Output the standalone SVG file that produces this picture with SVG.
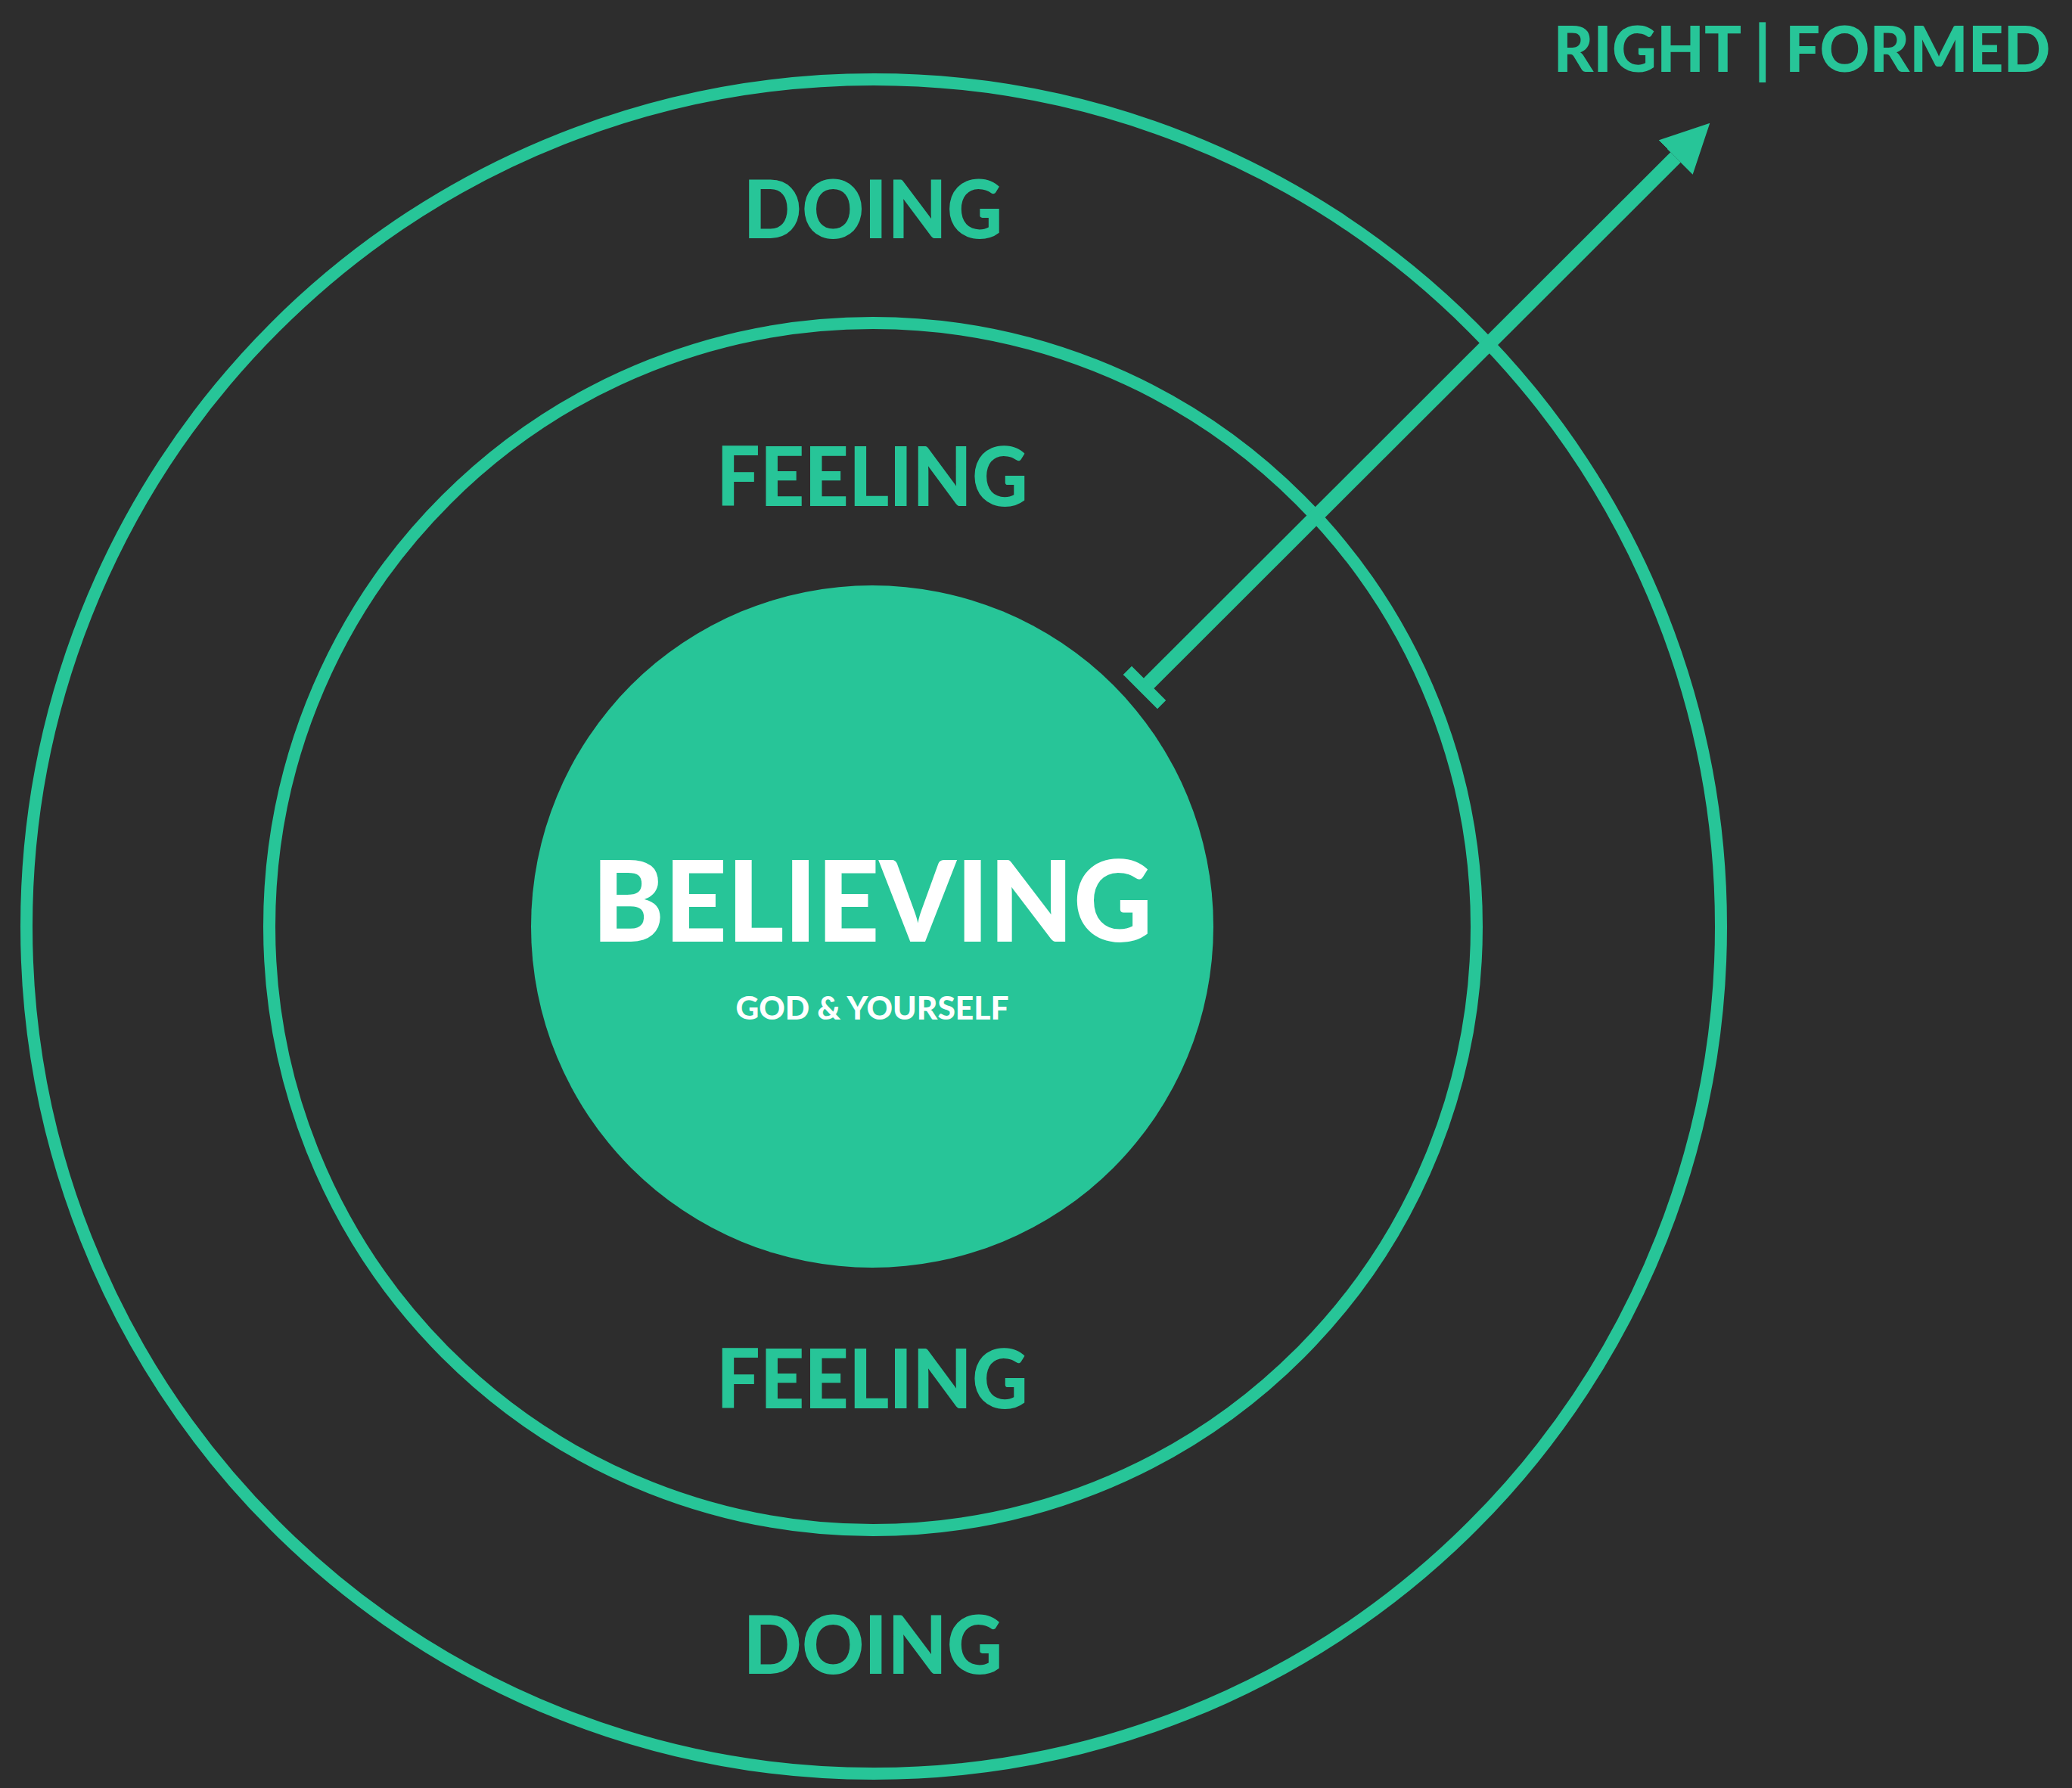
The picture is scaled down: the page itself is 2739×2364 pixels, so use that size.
<svg xmlns="http://www.w3.org/2000/svg" width="2739" height="2364" viewBox="0 0 2739 2364">
<style>
.ring{fill:none;stroke:#27C598;stroke-width:16}
.lbl{font-family:Lato,"Liberation Sans","Noto Sans",sans-serif;font-weight:900;fill:#27C598;text-anchor:middle}
.wht{font-family:Lato,"Liberation Sans","Noto Sans",sans-serif;font-weight:900;fill:#FFFFFF;text-anchor:middle}
.conn{stroke:#27C598;stroke-width:19;fill:none}
</style>
<defs>
<marker id="head" viewBox="0 -32 64 64" markerWidth="64" markerHeight="64" refX="0" refY="0" markerUnits="userSpaceOnUse" orient="auto">
<polygon points="0,-32 64,0 0,32" fill="#27C598"/>
</marker>
<marker id="tee" viewBox="-8 -32 16 64" markerWidth="16" markerHeight="64" refX="0" refY="0" markerUnits="userSpaceOnUse" orient="auto">
<rect x="-8" y="-32" width="16" height="64" fill="#27C598"/>
</marker>
</defs>
<rect x="0" y="0" width="2739" height="2364" fill="#2D2D2D"/>
<g id="doing">
<circle class="ring" cx="1155" cy="1225" r="1120"/>
<text class="lbl" x="1154" y="315" font-size="107" textLength="343" lengthAdjust="spacingAndGlyphs">DOING</text>
<text class="lbl" x="1154" y="2213" font-size="107" textLength="343" lengthAdjust="spacingAndGlyphs">DOING</text>
</g>
<g id="feeling">
<circle class="ring" cx="1154" cy="1225" r="798"/>
<text class="lbl" x="1153" y="669" font-size="108" textLength="412" lengthAdjust="spacingAndGlyphs">FEELING</text>
<text class="lbl" x="1153" y="1862" font-size="108" textLength="412" lengthAdjust="spacingAndGlyphs">FEELING</text>
</g>
<g id="believing">
<circle cx="1153" cy="1225" r="451" fill="#27C598"/>
<text class="wht" x="1153" y="1245" font-size="148" textLength="741" lengthAdjust="spacingAndGlyphs">BELIEVING</text>
<text class="wht" x="1153" y="1348" font-size="42" textLength="361" lengthAdjust="spacingAndGlyphs">GOD &amp; YOURSELF</text>
</g>
<g id="right-formed">
<text class="lbl" x="2382" y="95" font-size="84" textLength="657" lengthAdjust="spacingAndGlyphs">RIGHT | FORMED</text>
</g>
<g id="connectors">
<line class="conn" x1="1513" y1="909" x2="2215" y2="208" marker-start="url(#tee)" marker-end="url(#head)"/>
</g>
</svg>
